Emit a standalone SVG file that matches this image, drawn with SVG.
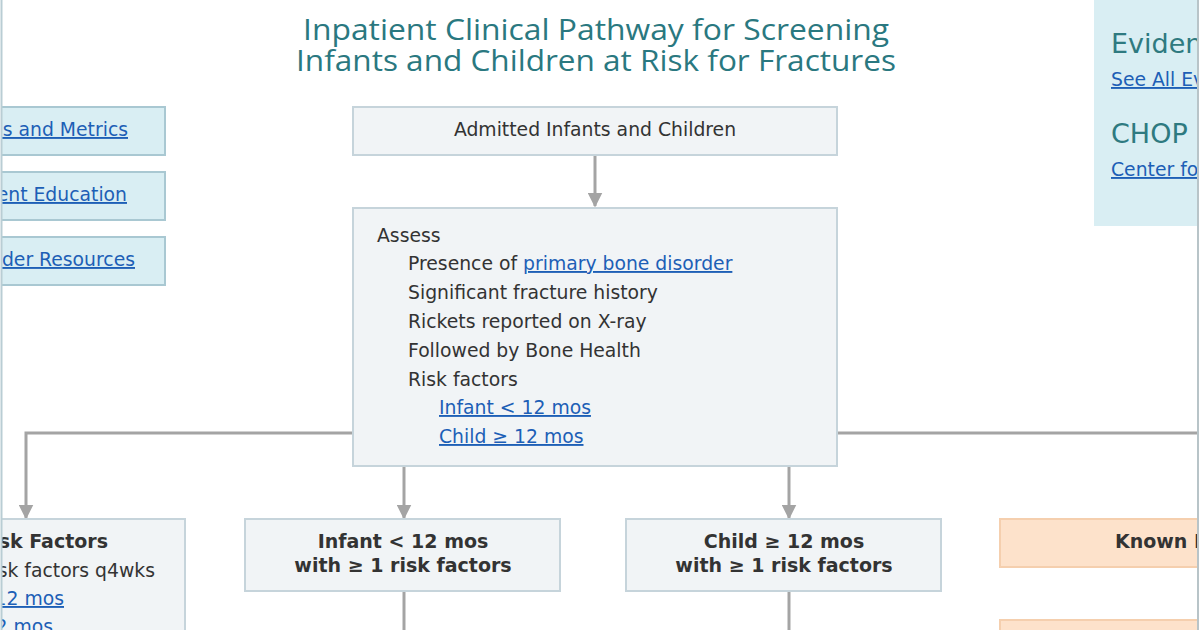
<svg xmlns="http://www.w3.org/2000/svg" width="1200" height="630" viewBox="0 0 1200 630">
<defs>
<style>
.box{fill:#f1f4f6;stroke:#c6d4db;stroke-width:2}
.side{fill:#d9eef3;stroke:#a9c8d2;stroke-width:2}
.warn{fill:#fde2cb;stroke:#f5cfae;stroke-width:2}
.txt{font-family:"DejaVu Sans",Verdana,sans-serif;font-size:18.8px;fill:#333}
.bold{font-family:"DejaVu Sans",Verdana,sans-serif;font-size:19px;font-weight:bold;fill:#333}
.link{font-family:"DejaVu Sans",Verdana,sans-serif;font-size:18.8px;fill:#1d5fb6;text-decoration:underline}
.title{font-family:"Open Sans","Noto Sans",sans-serif;font-size:29px;fill:#2a7880}
.head{font-family:"DejaVu Sans",Verdana,sans-serif;font-size:27px;fill:#2e7a80}
.conn{fill:none;stroke:#a4a4a4;stroke-width:3}
</style>
<marker id="arr" viewBox="0 0 10 10" refX="9" refY="5" markerWidth="5" markerHeight="5" markerUnits="strokeWidth" orient="auto">
<path d="M0,0 L10,5 L0,10 z" fill="#a4a4a4"/>
</marker>
<clipPath id="frame"><rect x="2" y="0" width="1195" height="630"/></clipPath>
</defs>
<rect x="0" y="0" width="1200" height="630" fill="#ffffff"/>
<g clip-path="url(#frame)">
<g id="title">
<text class="title" x="596" y="40" text-anchor="middle" textLength="586" lengthAdjust="spacingAndGlyphs">Inpatient Clinical Pathway for Screening</text>
<text class="title" x="596" y="71" text-anchor="middle" textLength="600" lengthAdjust="spacingAndGlyphs">Infants and Children at Risk for Fractures</text>
</g>
<g id="connectors">
<line class="conn" x1="595" y1="155" x2="595" y2="206" marker-end="url(#arr)"/>
<polyline class="conn" points="353,433 26,433 26,518" marker-end="url(#arr)"/>
<line class="conn" x1="837" y1="433" x2="1200" y2="433"/>
<line class="conn" x1="404" y1="466" x2="404" y2="518" marker-end="url(#arr)"/>
<line class="conn" x1="789" y1="466" x2="789" y2="518" marker-end="url(#arr)"/>
<line class="conn" x1="404" y1="591" x2="404" y2="632"/>
<line class="conn" x1="789" y1="591" x2="789" y2="632"/>
</g>
<g id="link-goals">
<rect class="side" x="-10" y="107" width="175" height="48"/>
<text class="link" x="128" y="136" text-anchor="end">ls and Metrics</text>
</g>
<g id="link-education">
<rect class="side" x="-10" y="172" width="175" height="48"/>
<text class="link" x="127" y="201" text-anchor="end">ent Education</text>
</g>
<g id="link-resources">
<rect class="side" x="-10" y="237" width="175" height="48"/>
<text class="link" x="135" y="266" text-anchor="end">der Resources</text>
</g>
<g id="evidence-panel">
<rect class="side" x="1094" y="-2" width="110" height="228" style="stroke:none"/>
<text class="head" x="1111" y="53">Evidence</text>
<text class="link" x="1111" y="86">See All Evidence</text>
<text class="head" x="1111" y="143">CHOP</text>
<text class="link" x="1111" y="176">Center for</text>
</g>
<g id="admitted">
<rect class="box" x="353" y="107" width="484" height="48"/>
<text class="txt" x="595" y="136" text-anchor="middle">Admitted Infants and Children</text>
</g>
<g id="assess">
<rect class="box" x="353" y="208" width="484" height="258"/>
<text class="txt" x="377" y="242">Assess</text>
<text class="txt" x="408" y="270">Presence of <tspan class="link">primary bone disorder</tspan></text>
<text class="txt" x="408" y="299">Significant fracture history</text>
<text class="txt" x="408" y="328">Rickets reported on X-ray</text>
<text class="txt" x="408" y="357">Followed by Bone Health</text>
<text class="txt" x="408" y="386">Risk factors</text>
<text class="link" x="439" y="414">Infant &lt; 12 mos</text>
<text class="link" x="439" y="443">Child ≥ 12 mos</text>
</g>
<g id="no-risk">
<rect class="box" x="-10" y="519" width="195" height="130"/>
<text class="bold" x="108" y="548" text-anchor="end">sk Factors</text>
<text class="txt" x="155" y="577" text-anchor="end">sk factors q4wks</text>
<text class="link" x="64" y="605" text-anchor="end">12 mos</text>
<text class="link" x="53" y="633" text-anchor="end">2 mos</text>
</g>
<g id="infant">
<rect class="box" x="245" y="519" width="315" height="72"/>
<text class="bold" x="403" y="548" text-anchor="middle">Infant &lt; 12 mos</text>
<text class="bold" x="403" y="572" text-anchor="middle">with ≥ 1 risk factors</text>
</g>
<g id="child">
<rect class="box" x="626" y="519" width="315" height="72"/>
<text class="bold" x="784" y="548" text-anchor="middle">Child ≥ 12 mos</text>
<text class="bold" x="784" y="572" text-anchor="middle">with ≥ 1 risk factors</text>
</g>
<g id="known">
<rect class="warn" x="1000" y="519" width="210" height="48"/>
<text class="bold" x="1115" y="548">Known Bone</text>
</g>
<g id="known-2">
<rect class="warn" x="1000" y="620" width="210" height="30"/>
</g>
</g>
<g id="frame-lines">
<line x1="1.5" y1="0" x2="1.5" y2="630" stroke="#b9cdd4" stroke-width="2"/>
<line x1="1198" y1="0" x2="1198" y2="630" stroke="#b8c4c8" stroke-width="2"/>
</g>
</svg>
